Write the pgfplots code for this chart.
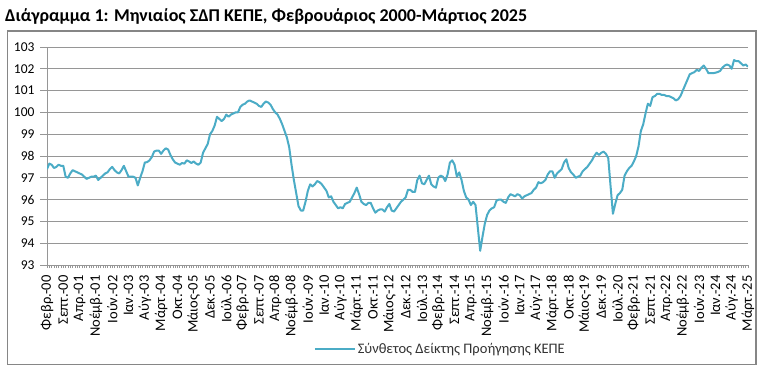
\documentclass[border=0pt]{standalone}
\usepackage{pgfplots}
\pgfplotsset{compat=1.18}
\usepackage{fontspec}
\setmainfont{Carlito}
\definecolor{teal1}{RGB}{75,172,198}
\definecolor{gridc}{RGB}{150,150,150}
\definecolor{borderc}{RGB}{134,134,134}
\begin{document}
\begin{tikzpicture}
\path[use as bounding box,fill=white] (0,0) rectangle (764pt,370pt);
\draw[borderc,line width=1.2pt] (7.5pt,5.5pt) rectangle (756pt,339pt);
\node[anchor=base west,inner sep=0pt,font=\fontsize{18}{19}\selectfont\bfseries] at (5pt,348pt) {Διάγραμμα 1: Μηνιαίος ΣΔΠ ΚΕΠΕ, Φεβρουάριος 2000-Μάρτιος 2025};
\begin{axis}[
  at={(47pt,105pt)}, anchor=south west,
  scale only axis, width=701pt, height=218pt,
  xmin=0, xmax=301, ymin=93, ymax=103,
  ytick={93,94,...,103},
  xtick={0,7,...,301},
  minor xtick={0,1,...,301},
  xticklabels={Φεβρ.-00,Σεπτ.-00,Απρ.-01,Νοέμβ.-01,Ιούν.-02,Ιαν.-03,Αύγ.-03,Μάρτ.-04,Οκτ.-04,Μάιος-05,Δεκ.-05,Ιούλ.-06,Φεβρ.-07,Σεπτ.-07,Απρ.-08,Νοέμβ.-08,Ιούν.-09,Ιαν.-10,Αύγ.-10,Μάρτ.-11,Οκτ.-11,Μάιος-12,Δεκ.-12,Ιούλ.-13,Φεβρ.-14,Σεπτ.-14,Απρ.-15,Νοέμβ.-15,Ιούν.-16,Ιαν.-17,Αύγ.-17,Μάρτ.-18,Οκτ.-18,Μάιος-19,Δεκ.-19,Ιούλ.-20,Φεβρ.-21,Σεπτ.-21,Απρ.-22,Νοέμβ.-22,Ιούν.-23,Ιαν.-24,Αύγ.-24,Μάρτ.-25},
  x tick label style={rotate=90,anchor=east,font=\fontsize{14.5}{15}\selectfont},
  y tick label style={font=\fontsize{13.5}{14}\selectfont},
  /pgf/number format/assume math mode=true,
  xticklabel shift=0pt,
  yticklabel shift=2pt,
  axis x line*=bottom, axis y line*=left,
  axis line style={-,draw=gridc,line width=0.8pt},
  tick align=outside,
  major tick length=7pt, minor tick length=3pt,
  xtick style={draw=none},
  every minor x tick/.append style={draw=gridc,line width=0.5pt},
  ytick style={draw=gridc,line width=0.8pt},
  ymajorgrids,
  grid style={draw=gridc,line width=0.8pt},
  legend style={at={(0.561,-0.385)},anchor=center,draw=none,fill=none,
    font=\fontsize{14.5}{16}\selectfont, text=black!80},
  legend image code/.code={\draw[#1,line width=2pt] (0pt,0pt) -- (40pt,0pt);},
  legend cell align=left,
]
\addplot[teal1,line width=2pt,line join=round] table[x expr=\coordindex,y index=0,header=false] {
97.40
97.65
97.60
97.45
97.50
97.60
97.55
97.55
97.05
97.00
97.20
97.35
97.30
97.25
97.20
97.15
97.05
96.95
97.00
97.05
97.05
97.10
96.90
97.00
97.10
97.20
97.25
97.40
97.50
97.35
97.25
97.20
97.35
97.55
97.30
97.05
97.05
97.05
97.00
96.65
97.00
97.30
97.70
97.72
97.80
97.95
98.20
98.25
98.25
98.10
98.25
98.35
98.30
98.05
97.85
97.70
97.65
97.60
97.68
97.65
97.80
97.75
97.68
97.75
97.65
97.60
97.70
98.15
98.35
98.55
99.00
99.15
99.40
99.80
99.70
99.60
99.70
99.90
99.80
99.90
99.95
100.00
100.00
100.25
100.35
100.40
100.50
100.55
100.50
100.45
100.40
100.30
100.25
100.40
100.50
100.45
100.35
100.15
100.00
99.90
99.70
99.45
99.15
98.85
98.40
97.60
96.90
96.30
95.70
95.50
95.50
95.90
96.40
96.70
96.60
96.70
96.85
96.80
96.70
96.55
96.40
96.10
96.15
95.90
95.75
95.60
95.65
95.60
95.80
95.85
95.90
96.10
96.30
96.55
96.25
95.90
95.80
95.75
95.85
95.85
95.60
95.40
95.50
95.55
95.55
95.45
95.65
95.80
95.50
95.45
95.60
95.75
95.90
96.00
96.10
96.45
96.45
96.35
96.35
96.90
97.10
96.75
96.70
96.90
97.10
96.70
96.60
96.55
97.00
97.10
97.05
96.85
97.15
97.70
97.80
97.60
97.05
97.25
96.90
96.40
96.10
96.00
95.75
95.90
95.75
94.70
93.65
94.30
94.90
95.30
95.50
95.60
95.65
95.95
96.00
96.00
95.90
95.85
96.10
96.25
96.20
96.15
96.25
96.20
96.05
96.15
96.20
96.25
96.30
96.45
96.55
96.80
96.75
96.80
96.90
97.15
97.30
97.30
97.00
97.20
97.30
97.40
97.70
97.85
97.45
97.25
97.15
97.00
97.05
97.10
97.30
97.40
97.50
97.65
97.80
98.00
98.15
98.05
98.15
98.20
98.10
97.90
96.60
95.35
95.80
96.20
96.30
96.45
97.10
97.30
97.45
97.55
97.75
98.00
98.45
99.15
99.45
99.95
100.40
100.30
100.70
100.75
100.85
100.85
100.80
100.80
100.75
100.75
100.70
100.65
100.55
100.60
100.75
101.00
101.25
101.50
101.75
101.80
101.85
101.95
101.90
102.05
102.15
102.00
101.80
101.80
101.80
101.82
101.85
101.90
102.05
102.15
102.20
102.15
102.00
102.40
102.35
102.35
102.25
102.15
102.20
102.10
};
\addlegendentry{Σύνθετος Δείκτης Προήγησης ΚΕΠΕ}
\end{axis}
\end{tikzpicture}
\end{document}
